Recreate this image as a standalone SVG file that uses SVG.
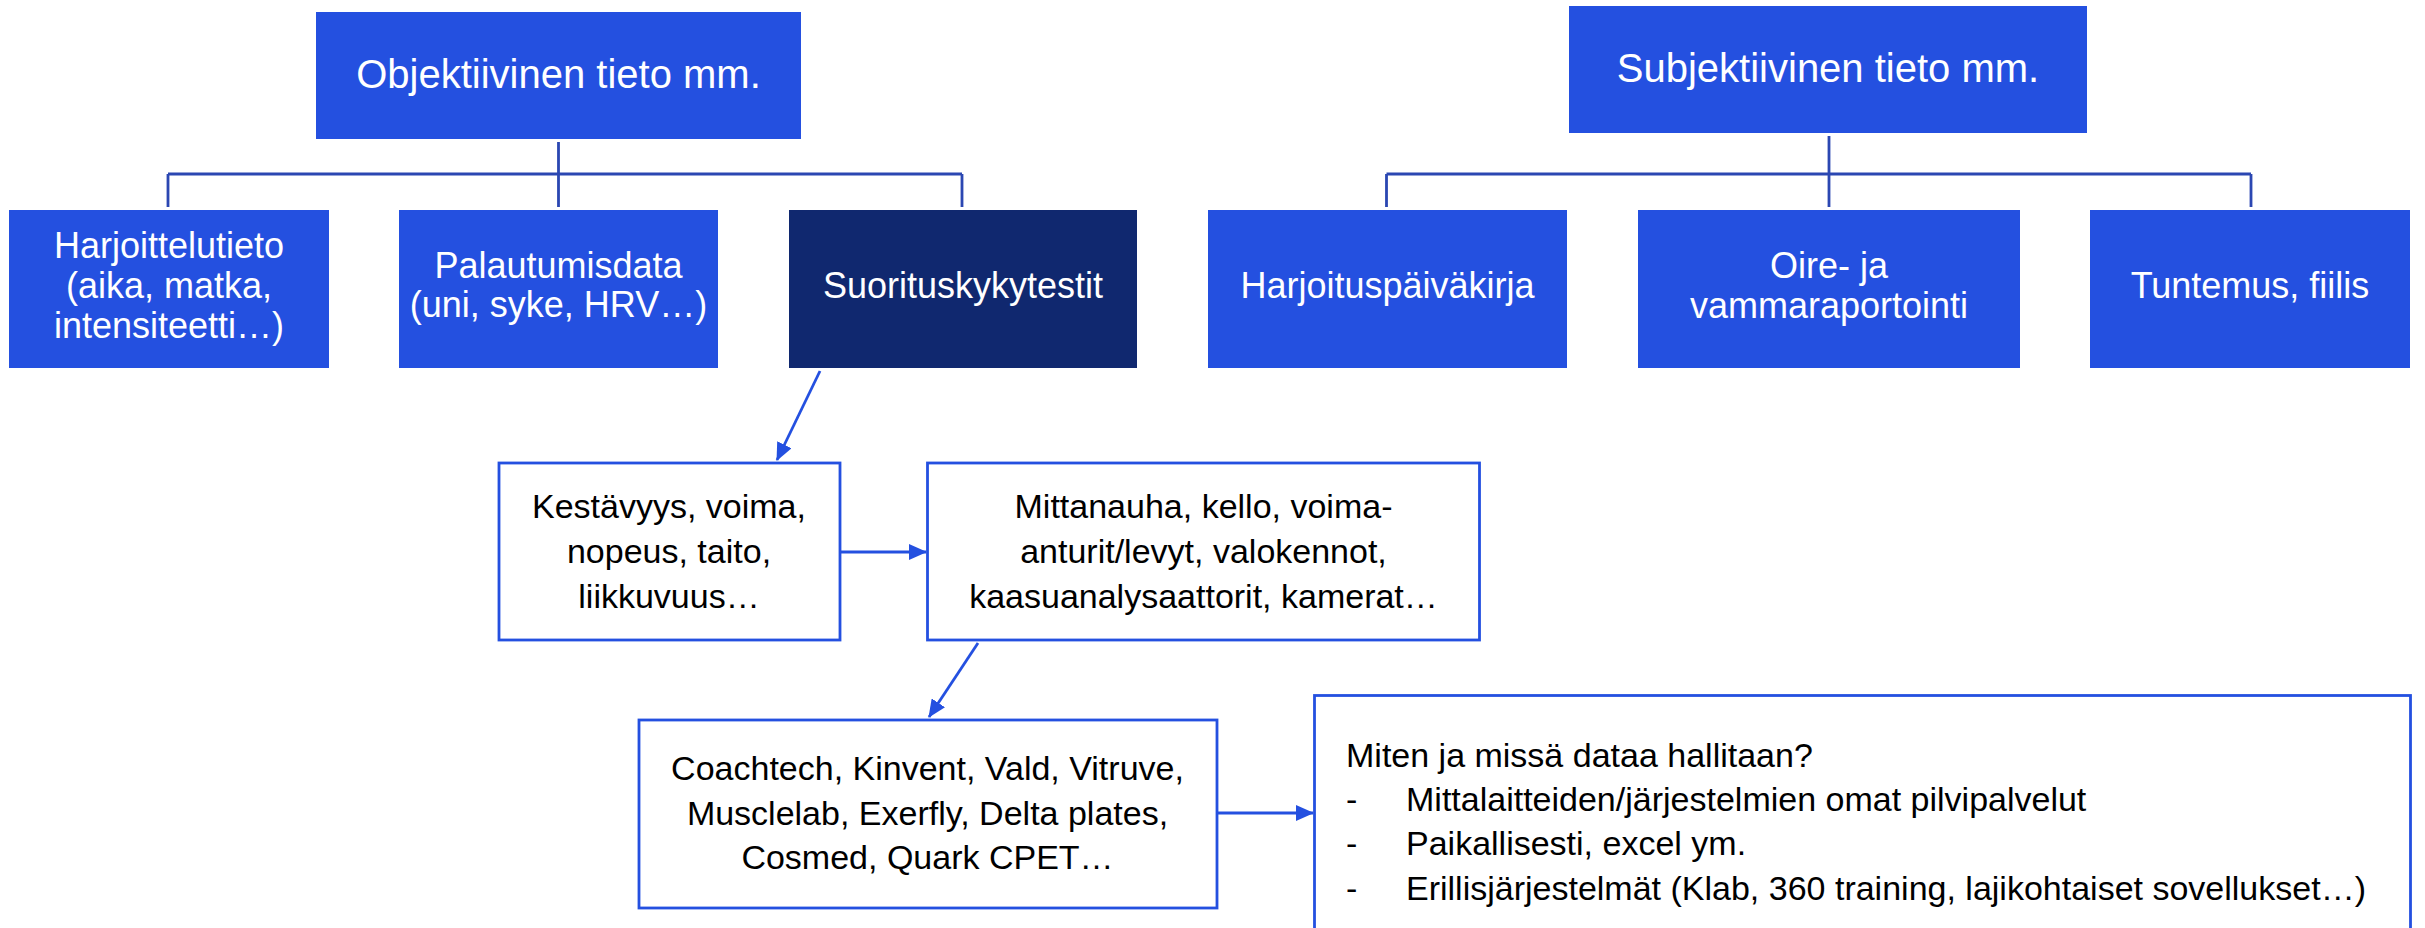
<svg xmlns="http://www.w3.org/2000/svg" width="2425" height="928" viewBox="0 0 2425 928">
<defs>
<style>
.fill{fill:#2450E0;}
.dark{fill:#10286F;}
.outline{fill:#FFFFFF;stroke:#2450E0;stroke-width:2.8;}
.tw{font-family:"Liberation Sans",Arial,sans-serif;font-size:36px;fill:#FFFFFF;text-anchor:middle;}
.tt{font-family:"Liberation Sans",Arial,sans-serif;font-size:40px;fill:#FFFFFF;text-anchor:middle;}
.tb{font-family:"Liberation Sans",Arial,sans-serif;font-size:34px;fill:#000000;text-anchor:middle;}
.tl{font-family:"Liberation Sans",Arial,sans-serif;font-size:34px;fill:#000000;}
.tree{fill:none;stroke:#2B47B2;stroke-width:2.8;}
.arr{fill:none;stroke:#2450E0;stroke-width:2.8;marker-end:url(#ah);}
</style>
<marker id="ah" markerUnits="userSpaceOnUse" markerWidth="18" markerHeight="16" viewBox="0 0 18 16" refX="17" refY="8" orient="auto">
<path d="M0,0 L18,8 L0,16 Z" fill="#2450E0"/>
</marker>
</defs>
<rect width="2425" height="928" fill="#FFFFFF"/>

<g id="connectors">
<path class="tree" d="M558.5,142 V207 M168,174 H962 M168,174 V207 M962,174 V207"/>
<path class="tree" d="M1829,136 V207 M1386.5,174 H2251 M1386.5,174 V207 M2251,174 V207"/>
<line class="arr" x1="820" y1="371" x2="777" y2="460"/>
<line class="arr" x1="841" y1="552" x2="926" y2="552"/>
<line class="arr" x1="978" y1="643" x2="929" y2="717"/>
<line class="arr" x1="1218" y1="813" x2="1313" y2="813"/>
</g>

<g id="objektiivinen">
<rect class="fill" x="316" y="12" width="485" height="127"/>
<text class="tt" x="558.5" y="88">Objektiivinen tieto mm.</text>
</g>

<g id="subjektiivinen">
<rect class="fill" x="1569" y="6" width="518" height="127"/>
<text class="tt" x="1828" y="82">Subjektiivinen tieto mm.</text>
</g>

<g id="harjoittelutieto">
<rect class="fill" x="9" y="210" width="320" height="158"/>
<text class="tw"><tspan x="169" y="258">Harjoittelutieto</tspan><tspan x="169" y="298">(aika, matka,</tspan><tspan x="169" y="338">intensiteetti…)</tspan></text>
</g>

<g id="palautumisdata">
<rect class="fill" x="399" y="210" width="319" height="158"/>
<text class="tw"><tspan x="558.5" y="278">Palautumisdata</tspan><tspan x="558.5" y="317">(uni, syke, HRV…)</tspan></text>
</g>

<g id="suorituskykytestit">
<rect class="dark" x="789" y="210" width="348" height="158"/>
<text class="tw" x="963" y="298">Suorituskykytestit</text>
</g>

<g id="harjoituspaivakirja">
<rect class="fill" x="1208" y="210" width="359" height="158"/>
<text class="tw" x="1387.5" y="298">Harjoituspäiväkirja</text>
</g>

<g id="oire">
<rect class="fill" x="1638" y="210" width="382" height="158"/>
<text class="tw"><tspan x="1829" y="278">Oire- ja</tspan><tspan x="1829" y="318">vammaraportointi</tspan></text>
</g>

<g id="tuntemus">
<rect class="fill" x="2090" y="210" width="320" height="158"/>
<text class="tw" x="2250" y="298">Tuntemus, fiilis</text>
</g>

<g id="kestavyys">
<rect class="outline" x="499" y="463" width="341" height="177"/>
<text class="tb"><tspan x="669" y="518">Kestävyys, voima,</tspan><tspan x="669" y="563">nopeus, taito,</tspan><tspan x="669" y="608">liikkuvuus…</tspan></text>
</g>

<g id="mittanauha">
<rect class="outline" x="927.5" y="463" width="552" height="177"/>
<text class="tb"><tspan x="1203.5" y="518">Mittanauha, kello, voima-</tspan><tspan x="1203.5" y="563">anturit/levyt, valokennot,</tspan><tspan x="1203.5" y="608">kaasuanalysaattorit, kamerat…</tspan></text>
</g>

<g id="coachtech">
<rect class="outline" x="639" y="720" width="578" height="188"/>
<text class="tb"><tspan x="927.5" y="780">Coachtech, Kinvent, Vald, Vitruve,</tspan><tspan x="927.5" y="825">Musclelab, Exerfly, Delta plates,</tspan><tspan x="927.5" y="869">Cosmed, Quark CPET…</tspan></text>
</g>

<g id="miten">
<rect class="outline" x="1314.5" y="695.5" width="1096" height="260"/>
<text class="tl" x="1346" y="767">Miten ja missä dataa hallitaan?</text>
<text class="tl" x="1346" y="811">-</text>
<text class="tl" x="1406" y="811">Mittalaitteiden/järjestelmien omat pilvipalvelut</text>
<text class="tl" x="1346" y="855">-</text>
<text class="tl" x="1406" y="855">Paikallisesti, excel ym.</text>
<text class="tl" x="1346" y="900">-</text>
<text class="tl" x="1406" y="900">Erillisjärjestelmät (Klab, 360 training, lajikohtaiset sovellukset…)</text>
</g>
</svg>
